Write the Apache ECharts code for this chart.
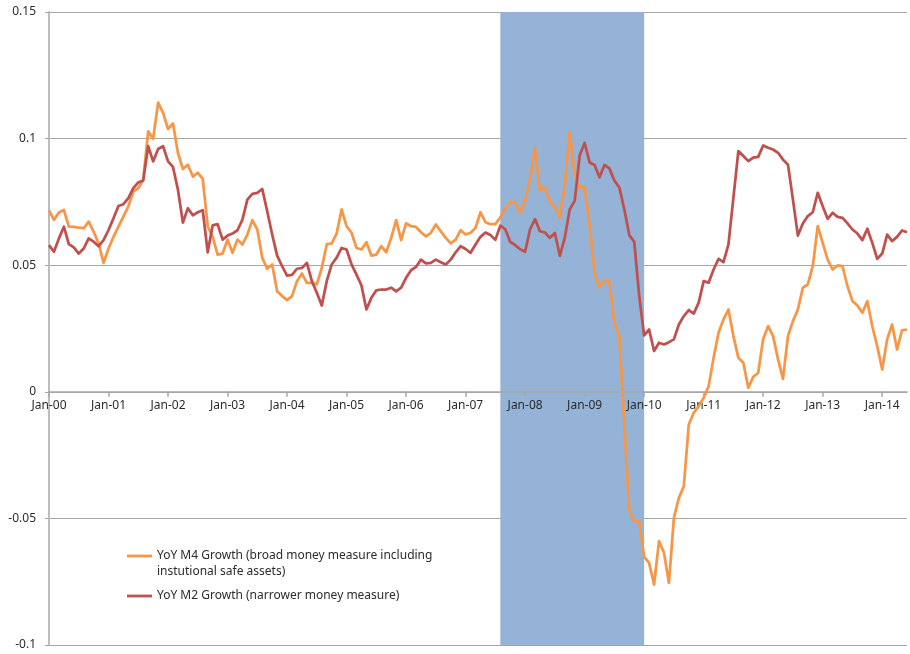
<!DOCTYPE html>
<html>
<head>
<meta charset="utf-8">
<script src="https://cdn.jsdelivr.net/npm/echarts@6/dist/echarts.min.js"></script>
<style>
  html, body { margin: 0; padding: 0; background: #fff; }
  #main { width: 910px; height: 654px; }
</style>
</head>
<body>
<div id="main"></div>
<script>
// monthly labels Jan-00 .. Jun-14
const monthNames = ['Jan', 'Feb', 'Mar', 'Apr', 'May', 'Jun', 'Jul', 'Aug', 'Sep', 'Oct', 'Nov', 'Dec']
const yearLabels = ['00', '01', '02', '03', '04', '05', '06', '07', '08', '09', '10', '11', '12', '13', '14']
const lastMonth = 'Jun-14'

const m4Name = 'YoY M4 Growth (broad money measure including\ninstutional safe assets)'
const m2Name = 'YoY M2 Growth (narrower money measure)'

// YoY M4 growth, one value per month
const m4Values = [
  0.0716, 0.0679, 0.0708, 0.0718, 0.0652, 0.0651, 0.0648, 0.0646, 0.0672, 0.0632, 0.0586, 0.0509,
  0.0566, 0.0612, 0.0652, 0.0692, 0.0732, 0.0791, 0.0804, 0.0837, 0.1029, 0.0999, 0.1142, 0.1102,
  0.1038, 0.1060, 0.0943, 0.0880, 0.0897, 0.0850, 0.0865, 0.0841, 0.0654, 0.0612, 0.0542, 0.0546,
  0.0601, 0.0549, 0.0601, 0.0582, 0.0621, 0.0678, 0.0641, 0.0529, 0.0486, 0.0503, 0.0397, 0.0378,
  0.0362, 0.0378, 0.0437, 0.0467, 0.0430, 0.0430, 0.0424, 0.0489, 0.0582, 0.0586, 0.0625, 0.0720,
  0.0654, 0.0628, 0.0568, 0.0562, 0.0591, 0.0538, 0.0542, 0.0575, 0.0551, 0.0608, 0.0678, 0.0599,
  0.0665, 0.0654, 0.0651, 0.0630, 0.0614, 0.0628, 0.0661, 0.0634, 0.0608, 0.0586, 0.0601, 0.0638,
  0.0621, 0.0628, 0.0647, 0.0709, 0.0670, 0.0662, 0.0662, 0.0689, 0.0724, 0.0750, 0.0748, 0.0708,
  0.0754, 0.0840, 0.0962, 0.0794, 0.0807, 0.0750, 0.0732, 0.0689, 0.0814, 0.1025, 0.0860, 0.0807,
  0.0807, 0.0660, 0.0471, 0.0412, 0.0438, 0.0438, 0.0273, 0.0220, -0.0123, -0.0466, -0.0512, -0.0512,
  -0.0652, -0.0676, -0.0761, -0.0590, -0.0636, -0.0755, -0.0498, -0.0419, -0.0373, -0.0129, -0.0083, -0.0057,
  -0.0024, 0.0022, 0.0134, 0.0233, 0.0286, 0.0325, 0.0220, 0.0134, 0.0115, 0.0016, 0.0059, 0.0075,
  0.0209, 0.0259, 0.0220, 0.0128, 0.0051, 0.0220, 0.0279, 0.0325, 0.0411, 0.0424, 0.0496, 0.0654,
  0.0588, 0.0522, 0.0483, 0.0499, 0.0496, 0.0417, 0.0358, 0.0341, 0.0312, 0.0358, 0.0259, 0.0180,
  0.0088, 0.0207, 0.0266, 0.0167, 0.0243, 0.0246
]

// YoY M2 growth, one value per month
const m2Values = [
  0.0579, 0.0553, 0.0606, 0.0652, 0.0583, 0.0570, 0.0546, 0.0566, 0.0606, 0.0593, 0.0575, 0.0599,
  0.0639, 0.0685, 0.0734, 0.0741, 0.0765, 0.0804, 0.0827, 0.0835, 0.0970, 0.0910, 0.0959, 0.0970,
  0.0910, 0.0888, 0.0798, 0.0668, 0.0725, 0.0697, 0.0709, 0.0717, 0.0551, 0.0657, 0.0662, 0.0601,
  0.0617, 0.0625, 0.0638, 0.0680, 0.0759, 0.0782, 0.0786, 0.0801, 0.0713, 0.0621, 0.0538, 0.0496,
  0.0459, 0.0462, 0.0486, 0.0489, 0.0509, 0.0437, 0.0391, 0.0341, 0.0437, 0.0503, 0.0530, 0.0568,
  0.0562, 0.0503, 0.0463, 0.0420, 0.0325, 0.0371, 0.0401, 0.0404, 0.0404, 0.0411, 0.0397, 0.0411,
  0.0450, 0.0480, 0.0493, 0.0522, 0.0507, 0.0509, 0.0522, 0.0512, 0.0503, 0.0522, 0.0551, 0.0575,
  0.0564, 0.0549, 0.0582, 0.0612, 0.0629, 0.0619, 0.0600, 0.0656, 0.0642, 0.0592, 0.0579, 0.0563,
  0.0553, 0.0642, 0.0682, 0.0634, 0.0629, 0.0608, 0.0627, 0.0537, 0.0609, 0.0721, 0.0754, 0.0933,
  0.0983, 0.0906, 0.0896, 0.0847, 0.0896, 0.0882, 0.0834, 0.0807, 0.0721, 0.0619, 0.0592, 0.0379,
  0.0223, 0.0246, 0.0161, 0.0194, 0.0187, 0.0196, 0.0207, 0.0266, 0.0299, 0.0323, 0.0309, 0.0352,
  0.0437, 0.0431, 0.0483, 0.0525, 0.0512, 0.0582, 0.0767, 0.0951, 0.0931, 0.0911, 0.0925, 0.0928,
  0.0973, 0.0964, 0.0957, 0.0944, 0.0917, 0.0897, 0.0759, 0.0617, 0.0665, 0.0694, 0.0709, 0.0786,
  0.0733, 0.0683, 0.0707, 0.0691, 0.0687, 0.0665, 0.0641, 0.0625, 0.0599, 0.0644, 0.0588, 0.0525,
  0.0546, 0.0621, 0.0595, 0.0612, 0.0637, 0.0630
]

// shaded period
const shadeStart = 'Aug-07'
const shadeEnd = 'Dec-09'

const yMin = -0.1
const yMax = 0.15
const yStep = 0.05

let categories = []
for (const yy of yearLabels) {
  for (const m of monthNames) {
    categories.push(m + '-' + yy)
    if (m + '-' + yy === lastMonth) break
  }
}

const s0 = categories.indexOf(shadeStart)
const s1 = categories.indexOf(shadeEnd)

const font = 'Noto Sans'
const textColor = '#2b2b2b'
const axisGray = '#a6a6a6'

const gridTop = 12
const gridBottom = 9
const chartHeight = 654

const chart = echarts.init(document.getElementById('main'))

// x axis sits on the zero line
const plotHeight = chartHeight - gridTop - gridBottom
const zeroOffset = -plotHeight * (0 - yMin) / (yMax - yMin)

const option = {
  animation: false,
  backgroundColor: '#fff',
  grid: { left: 49, right: 3, top: gridTop, bottom: gridBottom, containLabel: false },
  legend: {
    orient: 'vertical',
    left: 122,
    top: 543,
    itemWidth: 25,
    itemHeight: 30,
    itemGap: 1,
    symbolKeepAspect: false,
    itemStyle: { borderWidth: 0 },
    textStyle: { fontFamily: font, fontSize: 12, color: textColor, lineHeight: 16 },
    data: [
      { name: m4Name, icon: 'path://M0,0M25,30M0,5.6H25V8.4H0Z' },
      { name: m2Name, icon: 'path://M0,0M25,30M0,13.6H25V16.4H0Z' }
    ]
  },
  xAxis: {
    type: 'category',
    data: categories,
    boundaryGap: false,
    z: 3,
    offset: zeroOffset,
    axisLine: { onZero: false, lineStyle: { color: axisGray, width: 1.5 } },
    axisTick: {
      show: true,
      length: 5,
      interval: (i) => i % 12 === 0,
      lineStyle: { color: axisGray, width: 1.5 }
    },
    axisLabel: {
      interval: (i) => i % 12 === 0,
      margin: 8,
      fontFamily: font,
      fontSize: 12,
      color: textColor
    },
    splitLine: { show: false }
  },
  yAxis: {
    type: 'value',
    min: yMin,
    max: yMax,
    interval: yStep,
    axisLine: { show: true, lineStyle: { color: '#bdbdbd', width: 2 } },
    axisTick: { show: true, length: 4, lineStyle: { color: axisGray } },
    axisLabel: {
      margin: 13,
      fontFamily: font,
      fontSize: 12,
      color: textColor,
      formatter: (v) => String(+v.toFixed(2))
    },
    splitLine: { show: true, lineStyle: { color: axisGray, width: 1 } }
  },
  series: [
    {
      name: 'shade',
      type: 'line',
      data: categories.map(() => '-'),
      symbol: 'none',
      z: 2,
      silent: true,
      markArea: {
        silent: true,
        itemStyle: { color: '#95b3d7', opacity: 1 },
        data: [[{ xAxis: s0 - 0.5 }, { xAxis: s1 + 0.5 }]]
      }
    },
    {
      name: m4Name,
      type: 'line',
      data: m4Values,
      symbol: 'none',
      z: 4,
      color: '#f79646',
      lineStyle: { color: '#f79646', width: 2.75, join: 'round' }
    },
    {
      name: m2Name,
      type: 'line',
      data: m2Values,
      symbol: 'none',
      z: 5,
      color: '#c0504d',
      lineStyle: { color: '#c0504d', width: 2.75, join: 'round' }
    }
  ]
}

chart.setOption(option)
</script>
</body>
</html>
